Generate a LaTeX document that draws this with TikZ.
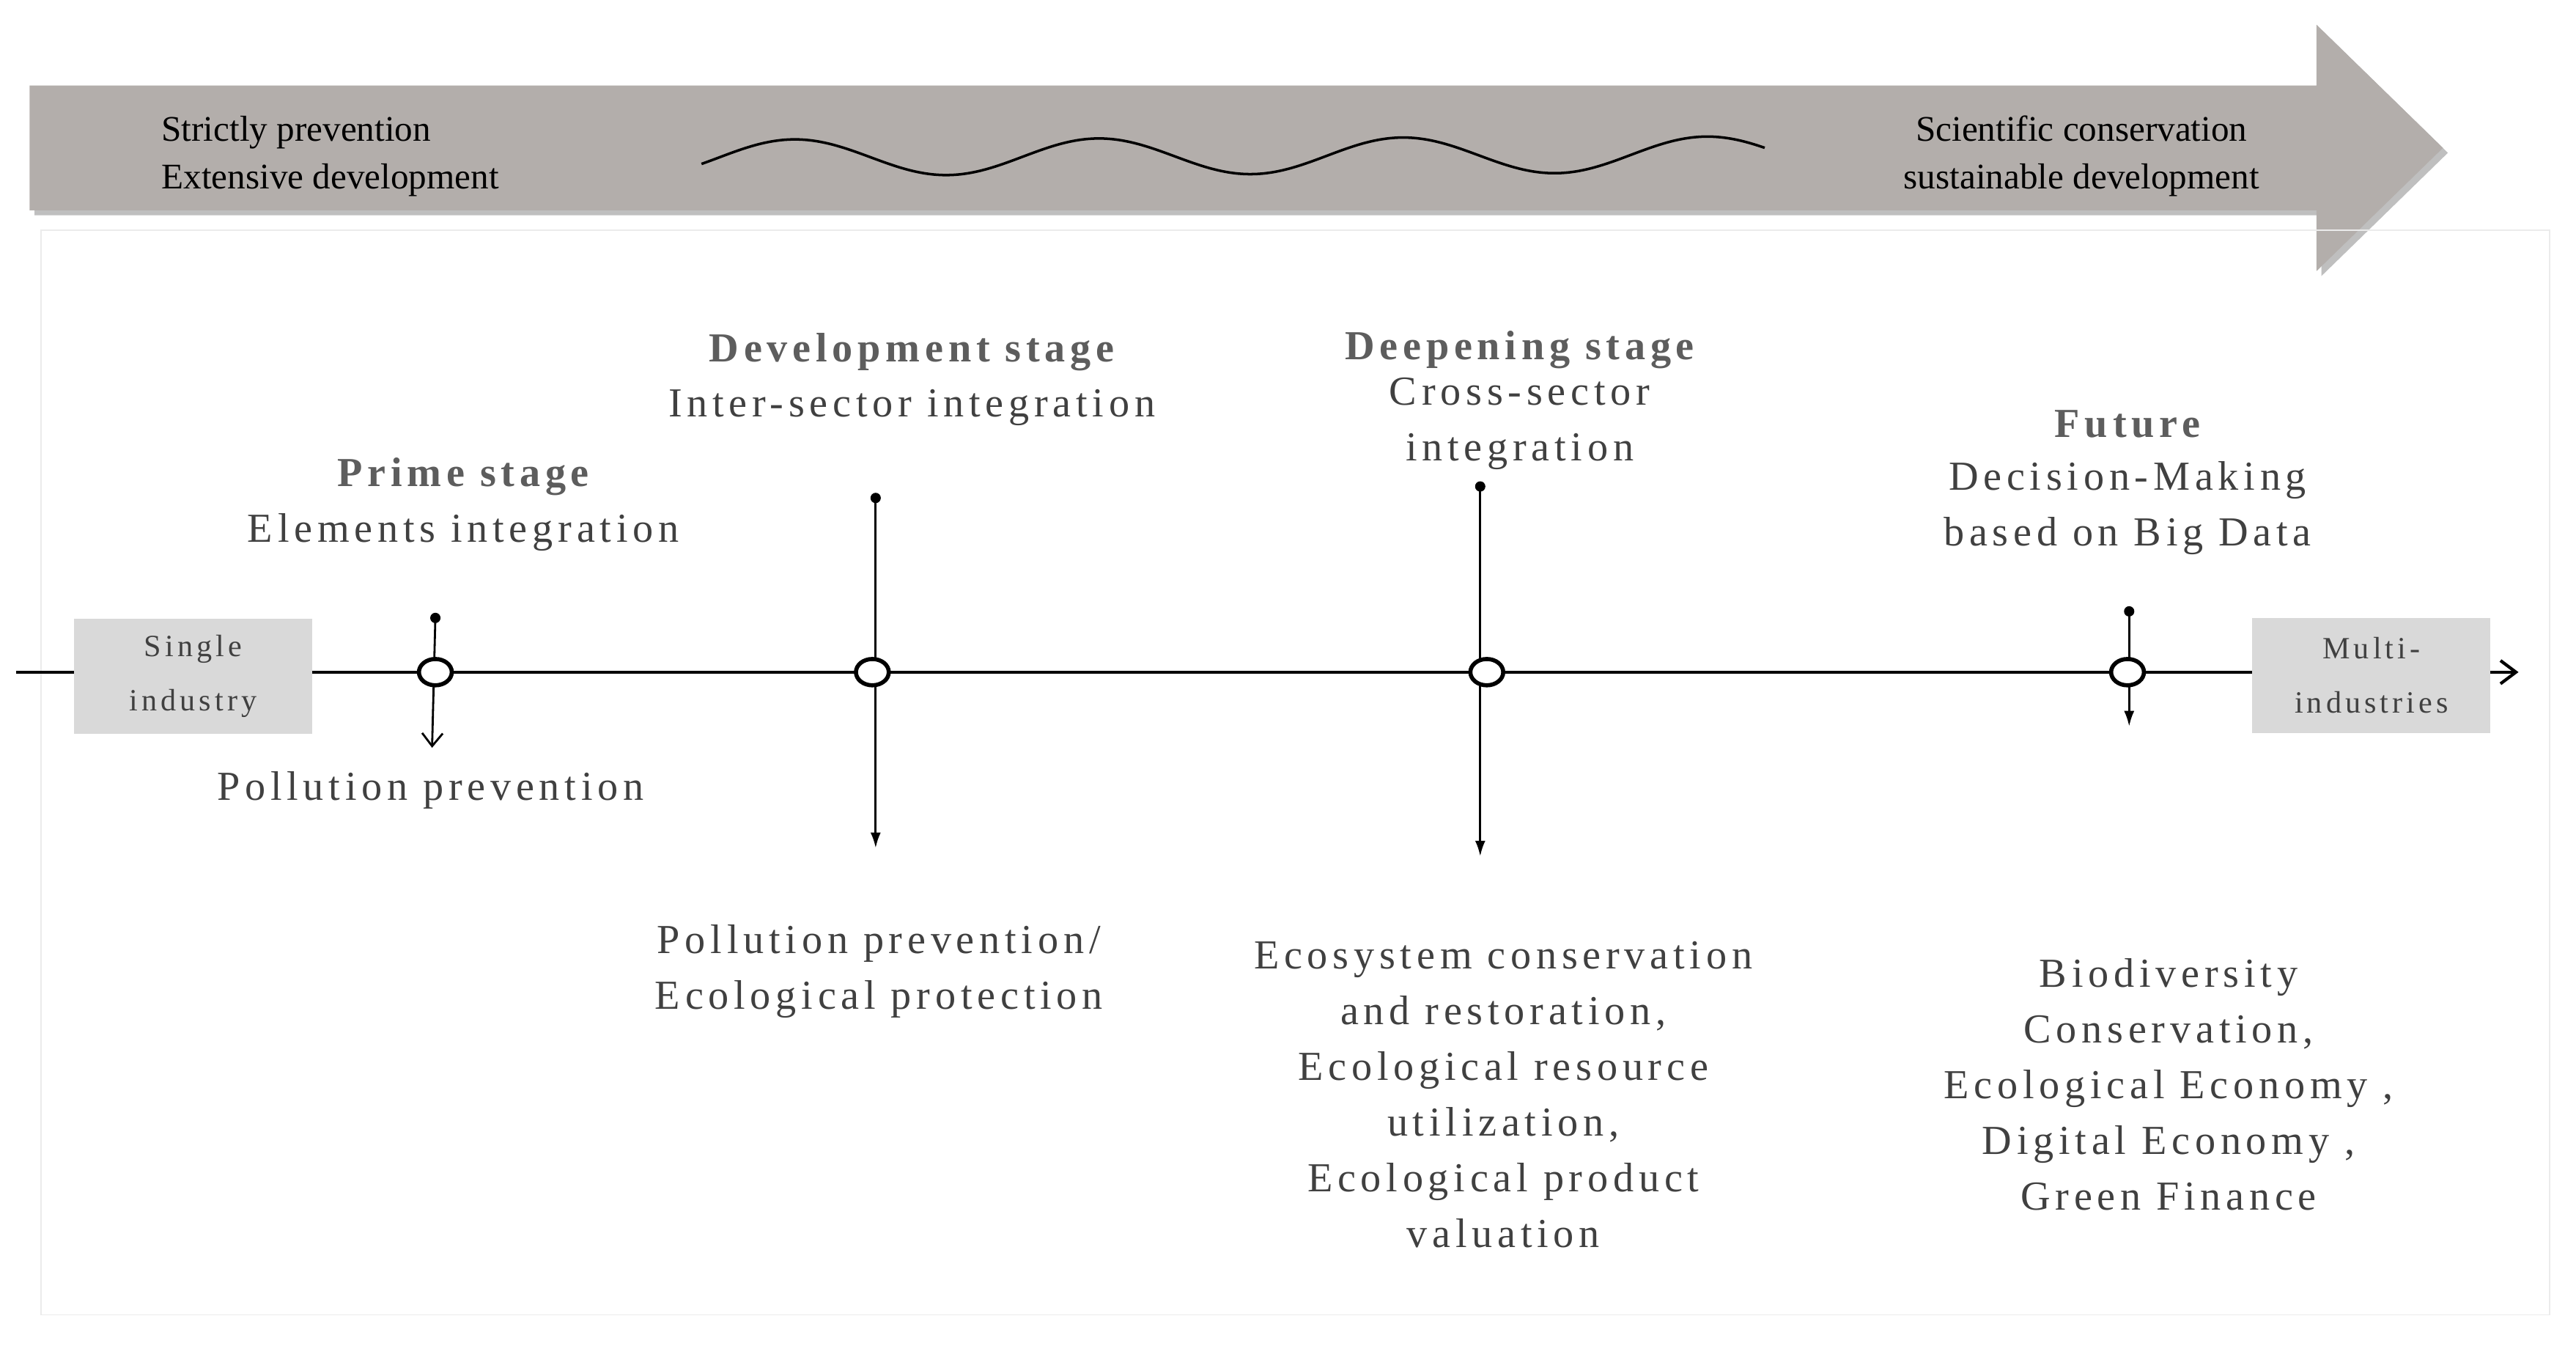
\documentclass[tikz,border=0pt]{standalone}
\usepackage{fontspec}
\setmainfont{Liberation Serif}
\usetikzlibrary{arrows.meta,shapes.geometric}
\definecolor{arr}{HTML}{B3AEAB}
\definecolor{tx}{HTML}{404040}
\definecolor{bx}{HTML}{D9D9D9}
\newfontfamily\spaced[LetterSpace=12]{Liberation Serif}
\begin{document}
\begin{tikzpicture}[x=0.02242cm,y=-0.02242cm,
  lab/.style={font=\spaced\fontsize{16}{21.6}\selectfont,text=tx,align=center,inner sep=0pt},
  ttl/.style={font=\spaced\bfseries\fontsize{16}{21.6}\selectfont,text=tx!85,inner sep=0pt},
  top/.style={font=\fontsize{14}{18.5}\selectfont,text=black,align=left,inner sep=0pt},
  ibox/.style={fill=bx,font=\spaced\fontsize{12}{21}\selectfont,text=tx,align=center,minimum width=145*0.02242cm,minimum height=70*0.02242cm,inner sep=0pt},
  ring/.style={draw,line width=1.6pt,fill=white,ellipse,minimum width=20*0.02242cm,minimum height=16*0.02242cm,inner sep=0pt},
  dot/.style={circle,fill=black,inner sep=0pt,minimum size=4pt}]
\useasboundingbox (0,0) rectangle (1568,819);
% top arrow
\fill[black!25] (21,55) -- (1413,55) -- (1413,18) -- (1490,93) -- (1413,168) -- (1413,131) -- (21,131) -- cycle;
\fill[arr] (18,52) -- (1410,52) -- (1410,15) -- (1487,90) -- (1410,165) -- (1410,128) -- (18,128) -- cycle;
\node[top,anchor=west] (tl) at (98,95) {Strictly prevention\\Extensive development};
\node[top,align=center] (tr) at (1267,95) {Scientific conservation\\sustainable development};
\draw[line width=1pt,domain=0:1,samples=120,smooth] plot ({427+648*\x},{96-2*\x+11*sin(3.5*360*\x-200)});
% frame
\draw[black!8] (25,140) rectangle (1552,800);
% timeline
\coordinate (ls) at (10,409);
\coordinate (le) at (1533,409);
\draw[line width=1.2pt,-{Straight Barb[length=6pt,width=9pt]}] (ls) -- (le);
\node[ibox] (single) at (117.5,411.5) {Single\\industry};
\node[ibox] (multi) at (1443.5,411) {Multi-\\industries};
% stage 1
\node[dot] (d1) at (265,376) {};
\coordinate (e1) at (263,455);
\draw[line width=0.8pt,-{Straight Barb[length=5pt,width=8pt]}] (d1.center) -- (e1);
\node[ring] (r1) at (265,409) {};
% stage 2
\node[dot] (d2) at (533,303) {};
\coordinate (e2) at (533,516);
\draw[line width=0.8pt,-{Latex[length=6pt,width=4pt]}] (d2.center) -- (e2);
\node[ring] (r2) at (531,409) {};
% stage 3
\node[dot] (d3) at (901,296) {};
\coordinate (e3) at (901,521);
\draw[line width=0.8pt,-{Latex[length=6pt,width=4pt]}] (d3.center) -- (e3);
\node[ring] (r3) at (905,409) {};
% stage 4
\node[dot] (d4) at (1296,372) {};
\coordinate (e4) at (1296,442);
\draw[line width=0.8pt,-{Latex[length=6pt,width=4pt]}] (d4.center) -- (e4);
\node[ring] (r4) at (1295,409) {};
% labels
\node[ttl] (t1) at (282,290) {Prime stage};
\node[lab] (s1) at (282,324) {Elements integration};
\node[lab] (p1) at (262,481) {Pollution prevention};
\node[ttl] (t2) at (555,214) {Development stage};
\node[lab] (s2) at (555,248) {Inter-sector integration};
\node[lab] (p2) at (535,591) {Pollution prevention/\\Ecological protection};
\node[ttl] (t3) at (925,213) {Deepening stage};
\node[lab] (s3) at (925,258) {Cross-sector\\integration};
\node[lab] (p3) at (915,666) {Ecosystem conservation\\and restoration,\\Ecological resource\\utilization,\\Ecological product\\valuation};
\node[ttl] (t4) at (1295,258) {Future};
\node[lab] (s4) at (1295,309) {Decision-Making\\based on Big Data};
\node[lab] (p4) at (1320,660) {Biodiversity\\Conservation,\\Ecological Economy ,\\Digital Economy ,\\Green Finance};
\end{tikzpicture}
\end{document}
